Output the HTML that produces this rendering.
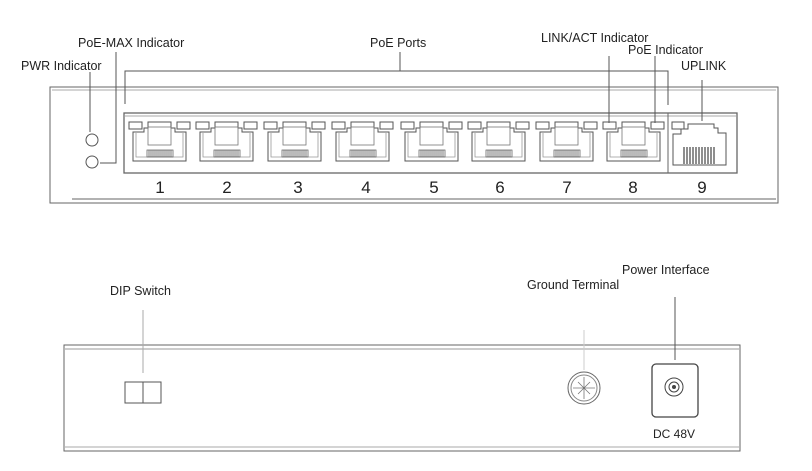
<!DOCTYPE html>
<html><head><style>
html,body{margin:0;padding:0;background:#fff;}
svg{display:block;font-family:"Liberation Sans",sans-serif;}
text{fill:#222;font-size:12.5px;}
</style></head><body>
<svg width="812" height="471" viewBox="0 0 812 471">
<defs>
<g id="port">
 <rect x="1" y="3" width="13" height="7" fill="none" stroke="#555" stroke-width="1"/>
 <rect x="49" y="3" width="13" height="7" fill="none" stroke="#555" stroke-width="1"/>
 <path d="M20 3 H43 V9 H47 V13 H58 V42 H5 V13 H16 V9 H20 Z" fill="none" stroke="#555" stroke-width="1"/>
 <rect x="20" y="8" width="23" height="18" fill="none" stroke="#777" stroke-width="0.8"/>
 <path d="M8 14 V38 H55 V14" fill="none" stroke="#999" stroke-width="0.8"/>
 <path d="M19 31 H45 V38 H19 Z" fill="none" stroke="#666" stroke-width="0.8"/>
 <path d="M21 31V38M23 31V38M25 31V38M27 31V38M29 31V38M31 31V38M33 31V38M35 31V38M37 31V38M39 31V38M41 31V38M43 31V38" stroke="#555" stroke-width="0.8"/>
</g>
</defs>

<!-- top panel -->
<rect x="50" y="87" width="728" height="116" fill="none" stroke="#666" stroke-width="1"/>
<line x1="52" y1="90" x2="776" y2="90" stroke="#aaa"/>
<line x1="72" y1="199" x2="776" y2="199" stroke="#666"/>
<rect x="124" y="113" width="613" height="60" fill="none" stroke="#666" stroke-width="1.3"/>
<line x1="125" y1="116" x2="736" y2="116" stroke="#aaa"/>
<line x1="668" y1="113" x2="668" y2="173" stroke="#666"/>

<use href="#port" x="128" y="119"/>
<use href="#port" x="195" y="119"/>
<use href="#port" x="263" y="119"/>
<use href="#port" x="331" y="119"/>
<use href="#port" x="400" y="119"/>
<use href="#port" x="467" y="119"/>
<use href="#port" x="535" y="119"/>
<use href="#port" x="602" y="119"/>
<!-- uplink -->
<rect x="672" y="122" width="12" height="7" fill="none" stroke="#555"/>
<path d="M688 124 H714 V128 H718 V133 H726 V165 H673 V134 H681 V129 H688 Z" fill="none" stroke="#555"/>
<path d="M684 147V164M687 147V164M690 147V164M693 147V164M696 147V164M699 147V164M702 147V164M705 147V164M708 147V164M711 147V164M714 147V164" stroke="#444" stroke-width="1.2"/>

<circle cx="92" cy="140" r="6" fill="none" stroke="#555"/>
<circle cx="92" cy="162" r="6" fill="none" stroke="#555"/>

<g font-size="17" style="font-size:17px">
<text x="160" y="193" text-anchor="middle" style="font-size:17px">1</text>
<text x="227" y="193" text-anchor="middle" style="font-size:17px">2</text>
<text x="298" y="193" text-anchor="middle" style="font-size:17px">3</text>
<text x="366" y="193" text-anchor="middle" style="font-size:17px">4</text>
<text x="434" y="193" text-anchor="middle" style="font-size:17px">5</text>
<text x="500" y="193" text-anchor="middle" style="font-size:17px">6</text>
<text x="567" y="193" text-anchor="middle" style="font-size:17px">7</text>
<text x="633" y="193" text-anchor="middle" style="font-size:17px">8</text>
<text x="702" y="193" text-anchor="middle" style="font-size:17px">9</text>
</g>

<!-- top labels & leaders -->
<text x="78" y="47">PoE-MAX Indicator</text>
<text x="21" y="70">PWR Indicator</text>
<text x="370" y="47">PoE Ports</text>
<text x="541" y="42">LINK/ACT Indicator</text>
<text x="628" y="54">PoE Indicator</text>
<text x="681" y="70">UPLINK</text>
<g stroke="#555" fill="none" stroke-width="1">
<path d="M116 52 V163 H100"/>
<path d="M90 72 V132"/>
<path d="M125 104 V71 H668 V105"/>
<path d="M400 71 V52"/>
<path d="M609 56 V123"/>
<path d="M655 56 V123"/>
<path d="M702 80 V121"/>
</g>

<!-- bottom panel -->
<rect x="64" y="345" width="676" height="106" fill="none" stroke="#666"/>
<line x1="65" y1="349" x2="739" y2="349" stroke="#999"/>
<line x1="65" y1="447" x2="739" y2="447" stroke="#aaa"/>
<rect x="125" y="382" width="36" height="21" fill="none" stroke="#555"/>
<line x1="143" y1="382" x2="143" y2="403" stroke="#555"/>
<circle cx="584" cy="388" r="16" fill="none" stroke="#666"/>
<circle cx="584" cy="388" r="13" fill="none" stroke="#888"/>
<path d="M584 377 V399 M573 388 H595 M578 382 L590 394 M578 394 L590 382" stroke="#777" stroke-width="0.8"/>
<rect x="652" y="364" width="46" height="53" rx="4" fill="none" stroke="#444" stroke-width="1.3"/>
<circle cx="674" cy="387" r="9" fill="none" stroke="#444"/>
<circle cx="674" cy="387" r="5" fill="none" stroke="#444"/>
<circle cx="674" cy="387" r="2" fill="#444"/>
<text x="674" y="438" text-anchor="middle" style="font-size:12px">DC 48V</text>

<text x="110" y="295">DIP Switch</text>
<text x="527" y="289">Ground Terminal</text>
<text x="622" y="274">Power Interface</text>
<g stroke="#555" stroke-width="1">
<line x1="143" y1="310" x2="143" y2="373" stroke="#aaa"/>
<line x1="675" y1="297" x2="675" y2="360"/>
<line x1="584" y1="330" x2="584" y2="370" stroke="#ccc"/>
</g>
</svg>
</body></html>
